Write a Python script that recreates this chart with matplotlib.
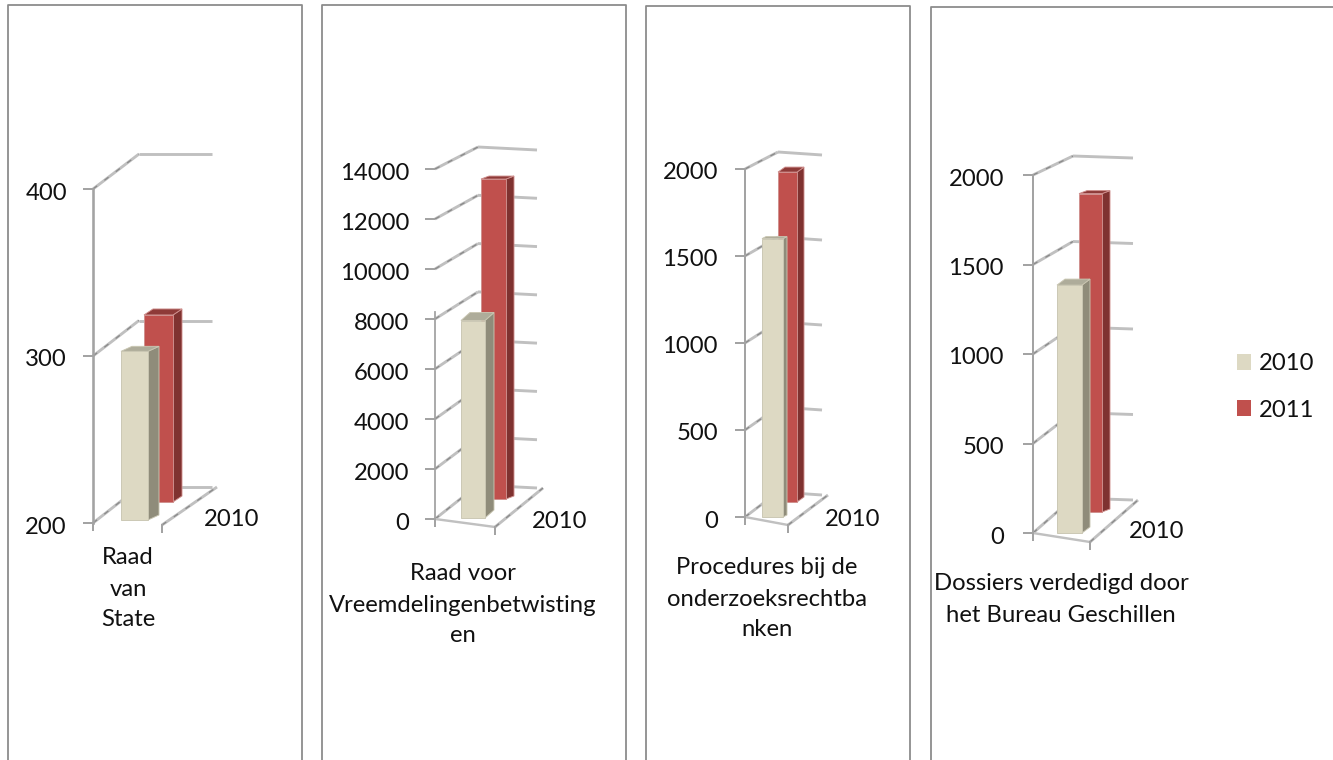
# 3D style column panels, drawn as oblique projection on flat axes
import matplotlib
matplotlib.use('Agg')
import matplotlib.pyplot as plt
from matplotlib.lines import Line2D
from matplotlib.patches import Patch, Polygon
from matplotlib.transforms import ScaledTranslation

plt.rcParams['font.family'] = ['Lato', 'DejaVu Sans']

categories = ['Raad\nvan\nState',
              'Raad voor\nVreemdelingenbetwisting\nen',
              'Procedures bij de\nonderzoeksrechtba\nnken',
              'Dossiers verdedigd door\nhet Bureau Geschillen']
series_names = ['2010', '2011']
values_2010 = [301, 7900, 1600, 1385]
values_2011 = [312, 13100, 1925, 1830]
axis_ticks = [[200, 300, 400],
              [0, 2000, 4000, 6000, 8000, 10000, 12000, 14000],
              [0, 500, 1000, 1500, 2000],
              [0, 500, 1000, 1500, 2000]]
depth_label = '2010'

W, H = 1333, 760
px_pt = 0.72  # pixels to points at dpi 100
FONT = 17.2
AXIS = '#a3a3a3'
WALL = '#c0c0c0'
FLECK = '#8a8a8a'
BOX = '#8c8c8c'
COL_2010 = ('#ddd9c3', '#8f8c7a', '#aeac9a', '#c9c6b2')
COL_2011 = ('#c0504d', '#7f3230', '#8e3a38', '#cf8f8d')

# frame: left, right, top
frames = [(8, 302, 5), (322, 626, 5), (646, 910, 6), (931, 1340, 7)]
# front axis x, y of top tick, y of bottom tick, top of drawn spine
axis_geo = [(93, 189, 523, 400), (435, 169, 519, 8300), (745, 169, 517, 2000), (1033, 175, 533, 2000)]
# back wall: left x, right x, y top, y bottom, end drop of right segment
back_geo = [(139, 212, 154, 487, 0), (478, 537, 147, 485, 3), (778, 822, 152, 492, 3), (1073, 1133, 156, 498, 2)]
# floor corners: front right, back right
floor_geo = [((162, 525), (217, 487)), ((495, 527), (543, 488)), ((788, 525), (828, 495)), ((1090, 542), (1138, 500))]
# bars: x0, x1, bottom y, height scale, side dx, side dy
bar_2010 = [(121, 148, 520, 1.0, 11, 5), (461, 485, 518, 1.0, 9, 8), (762, 783, 517, 1.0, 4, 2), (1057, 1082, 533, 1.0, 8, 6)]
bar_2011 = [(144, 173, 502, 1.0, 9, 6), (481, 506, 499, 0.977, 8, 3), (778, 797, 502, 0.985, 7, 5), (1079, 1102, 512, 0.972, 8, 3)]
# label centres
cat_x = [128, 463, 767, 1061]
cat_y = [[558, 590, 620], [574, 606, 636], [568, 599, 629], [584, 615]]
depth_xy = [(232, 519), (560, 521), (853, 520), (1157, 531)]
label_pad = [16, 16, 17, 19]
spine_px = [2.6, 1.8, 2.0, 2.0]


def fig_text(x, y, s):
    fig.text(x / W, 1 - y / H, s, fontsize=FONT, ha='center', va='center', color='#111111')


def to_data(ax_geo, lo, hi):
    # returns function from pixel position to the panel's data units
    x0, y_top, y_base, _ = ax_geo
    per_px = (hi - lo) / (y_base - y_top)
    return lambda x, y: (x - x0, lo + (y_base - y) * per_px)


def draw_bar(ax, geo, value, lo, colours, per_px, y_base, x_axis):
    x0, x1, bottom, scale, dx, dy = geo
    x0, x1 = x0 - x_axis, x1 - x_axis
    base = lo + (y_base - bottom) * per_px
    top = base + (value - lo) * scale
    up = dy * per_px
    faces = [
        ([(x1, base), (x1 + dx, base + up), (x1 + dx, top + up), (x1, top)], colours[1]),
        ([(x0, top), (x0 + dx, top + up), (x1 + dx, top + up), (x1, top)], colours[2]),
    ]
    for pts, col in faces:
        ax.add_patch(Polygon(pts, closed=True, facecolor=col, edgecolor=colours[3], lw=0.9 * px_pt,
                             clip_on=False, zorder=3))
    ax.add_patch(Polygon([(x0, base), (x1, base), (x1, top), (x0, top)], closed=True, facecolor=colours[0],
                         edgecolor=colours[3], lw=0.9 * px_pt, clip_on=False, zorder=3))


def wall_line(ax, xs, ys):
    ax.plot(xs, ys, color=WALL, lw=2.9 * px_pt, clip_on=False, zorder=1, solid_capstyle='butt')
    ax.plot(xs, ys, color=FLECK, lw=1.3 * px_pt, ls=(0, (4, 7)), clip_on=False, zorder=1)


fig = plt.figure(figsize=(W / 100, H / 100), dpi=100)

for left, right, top in frames:
    xs = [left / W, left / W, right / W, right / W]
    ys = [0, 1 - top / H, 1 - top / H, 0]
    fig.add_artist(Line2D(xs, ys, color=BOX, lw=1.8 * px_pt))

for i in range(4):
    x_axis, y_top, y_base, spine_top = axis_geo[i]
    ticks = axis_ticks[i]
    lo, hi = ticks[0], ticks[-1]
    ax = fig.add_axes([x_axis / W, 1 - y_base / H, 200 / W, (y_base - y_top) / H])
    ax.set_xlim(0, 200)
    ax.set_ylim(lo, hi)
    ax.patch.set_visible(False)
    for name in ['top', 'right', 'bottom']:
        ax.spines[name].set_visible(False)
    ax.spines['left'].set_bounds(lo, spine_top)
    ax.spines['left'].set_color(AXIS)
    ax.spines['left'].set_linewidth(spine_px[i] * px_pt)
    ax.set_xticks([])
    ax.set_yticks(ticks)
    ax.set_yticklabels([str(t) for t in ticks], fontsize=FONT, color='#111111')
    ax.tick_params(axis='y', length=10 * px_pt, width=2.0 * px_pt, color=AXIS, pad=label_pad[i] * px_pt)
    # tick labels sit a little below their ticks
    shift = ScaledTranslation(0, -2 * px_pt / 72, fig.dpi_scale_trans)
    for lab in ax.get_yticklabels():
        lab.set_transform(lab.get_transform() + shift)

    per_px = (hi - lo) / (y_base - y_top)
    bl_x, br_x, back_top, back_base, drop = back_geo[i]
    bl_x -= x_axis
    br_x -= x_axis
    back_scale = (back_base - back_top) / (y_base - y_top)
    rise = (y_base - back_base) * per_px

    # gridlines on side wall and back wall, bars cover them
    for t in ticks:
        back_v = lo + rise + (t - lo) * back_scale
        wall_line(ax, [0, bl_x], [t, back_v])
        ax.plot([bl_x, br_x], [back_v, back_v - drop * per_px], color=WALL, lw=2.9 * px_pt,
                clip_on=False, zorder=1, solid_capstyle='butt')

    # floor, the first panel has no front edge
    (fr_x, fr_y), (bk_x, bk_y) = floor_geo[i]
    px = to_data(axis_geo[i], lo, hi)
    fr = px(fr_x, fr_y)
    bk = px(bk_x, bk_y)
    if i > 0:
        ax.plot([0, fr[0]], [lo, fr[1]], color=WALL, lw=2.4 * px_pt, clip_on=False, zorder=1)
    wall_line(ax, [fr[0], bk[0]], [fr[1], bk[1]])
    ax.plot([fr[0], fr[0]], [fr[1], fr[1] - 7 * per_px], color=AXIS, lw=2.0 * px_pt, clip_on=False, zorder=1)
    ax.plot([0, 0], [lo, lo - 7 * per_px], color=AXIS, lw=2.0 * px_pt, clip_on=False, zorder=1)

    draw_bar(ax, bar_2011[i], values_2011[i], lo, COL_2011, per_px, y_base, x_axis)
    draw_bar(ax, bar_2010[i], values_2010[i], lo, COL_2010, per_px, y_base, x_axis)

    for line, y in zip(categories[i].split('\n'), cat_y[i]):
        fig_text(cat_x[i], y, line)
    fig_text(depth_xy[i][0], depth_xy[i][1], depth_label)

handles = [Patch(facecolor=COL_2010[0], label=series_names[0]),
           Patch(facecolor=COL_2011[0], label=series_names[1])]
fig.legend(handles=handles, loc='center left', bbox_to_anchor=(1215 / W, 1 - 387 / H), frameon=False,
           fontsize=FONT, handlelength=0.62, handleheight=0.62, handletextpad=0.3,
           labelspacing=1.05, labelcolor='#111111')

plt.savefig('out.png', dpi=100)
